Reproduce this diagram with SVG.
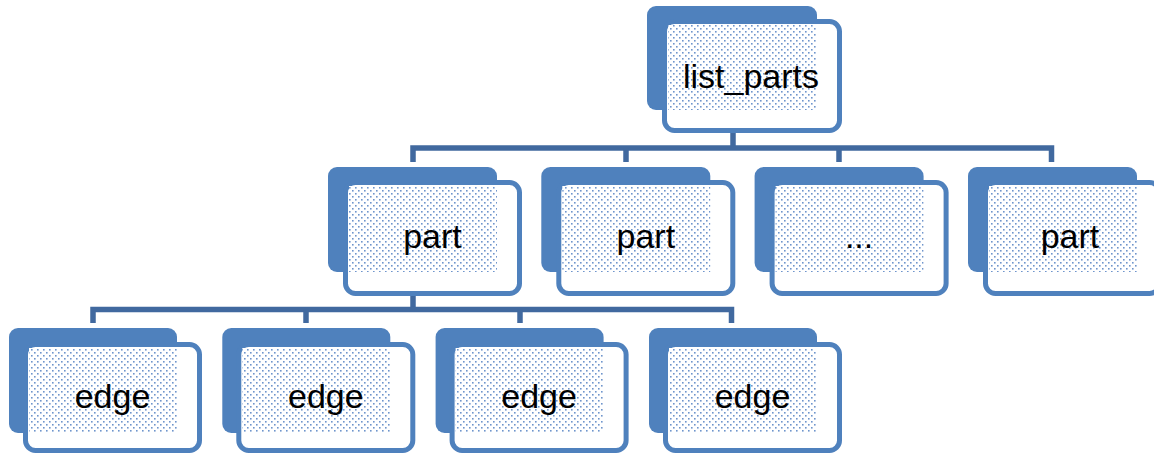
<svg xmlns="http://www.w3.org/2000/svg" width="1154" height="454" viewBox="0 0 1154 454">
<defs>
<pattern id="dots" width="6" height="6" patternUnits="userSpaceOnUse">
<rect width="6" height="6" fill="#ffffff"/>
<rect x="1" y="1" width="1.6" height="1.6" fill="#6f95cc"/>
<rect x="4" y="4" width="1.6" height="1.6" fill="#6f95cc"/>
</pattern>
<style>
.back{fill:#4f81bd}
.front{fill:#ffffff;stroke:#4f81bd;stroke-width:5}
.pat{fill:url(#dots)}
.lbl{font-family:"Liberation Sans",Arial,sans-serif;font-size:34px;fill:#000;text-anchor:middle}
.conn{fill:none;stroke:#41699f;stroke-width:5.5;stroke-linejoin:miter;stroke-linecap:butt}
.dot{fill:none;stroke:#7a9fd0;stroke-width:1.5;stroke-dasharray:1.5 3}
</style>
</defs>
<g id="connectors">
<path class="conn" d="M733,133 V148"/>
<path class="conn" d="M413,162 V148 H1051.5 V162"/>
<path class="conn" d="M626,148 V162"/>
<path class="conn" d="M839,148 V162"/>
<path class="conn" d="M413,296 V309.5"/>
<path class="conn" d="M93,323 V309.5 H731.5 V323"/>
<path class="conn" d="M306,309.5 V323"/>
<path class="conn" d="M520,309.5 V323"/>
<path class="dot" d="M733,119 V127"/>
<path class="dot" d="M413,276 V291"/>
</g>
<g id="list_parts">
<rect class="back" x="647" y="6" width="170" height="104" rx="9"/>
<rect class="front" x="664.5" y="21.5" width="175" height="109" rx="10"/>
<rect class="pat" x="668" y="25" width="149" height="85"/>
<text class="lbl" x="751" y="88">list_parts</text>
</g>
<g id="part1">
<rect class="back" x="328" y="167" width="169" height="105" rx="9"/>
<rect class="front" x="345.5" y="182.5" width="174" height="111" rx="10"/>
<rect class="pat" x="349" y="186" width="148" height="86"/>
<text class="lbl" x="432.5" y="248">part</text>
</g>
<g id="part2">
<rect class="back" x="541.3" y="167" width="169" height="105" rx="9"/>
<rect class="front" x="558.8" y="182.5" width="174" height="111" rx="10"/>
<rect class="pat" x="562.3" y="186" width="148" height="86"/>
<text class="lbl" x="645.8" y="248">part</text>
</g>
<g id="part3">
<rect class="back" x="754.6" y="167" width="169" height="105" rx="9"/>
<rect class="front" x="772.1" y="182.5" width="174" height="111" rx="10"/>
<rect class="pat" x="775.6" y="186" width="148" height="86"/>
<text class="lbl" x="859.1" y="248">...</text>
</g>
<g id="part4">
<rect class="back" x="968" y="167" width="169" height="105" rx="9"/>
<rect class="front" x="985.5" y="182.5" width="174" height="111" rx="10"/>
<rect class="pat" x="989" y="186" width="148" height="86"/>
<text class="lbl" x="1070" y="248">part</text>
</g>
<g id="edge1">
<rect class="back" x="9" y="328" width="168" height="105" rx="9"/>
<rect class="front" x="25.5" y="344.5" width="174" height="106" rx="10"/>
<rect class="pat" x="29" y="348" width="148" height="85"/>
<text class="lbl" x="112.5" y="408">edge</text>
</g>
<g id="edge2">
<rect class="back" x="222.3" y="328" width="168" height="105" rx="9"/>
<rect class="front" x="238.8" y="344.5" width="174" height="106" rx="10"/>
<rect class="pat" x="242.3" y="348" width="148" height="85"/>
<text class="lbl" x="325.8" y="408">edge</text>
</g>
<g id="edge3">
<rect class="back" x="435.6" y="328" width="168" height="105" rx="9"/>
<rect class="front" x="452.1" y="344.5" width="174" height="106" rx="10"/>
<rect class="pat" x="455.6" y="348" width="148" height="85"/>
<text class="lbl" x="539.1" y="408">edge</text>
</g>
<g id="edge4">
<rect class="back" x="649" y="328" width="168" height="105" rx="9"/>
<rect class="front" x="665.5" y="344.5" width="174" height="106" rx="10"/>
<rect class="pat" x="669" y="348" width="148" height="85"/>
<text class="lbl" x="752.5" y="408">edge</text>
</g>
</svg>
